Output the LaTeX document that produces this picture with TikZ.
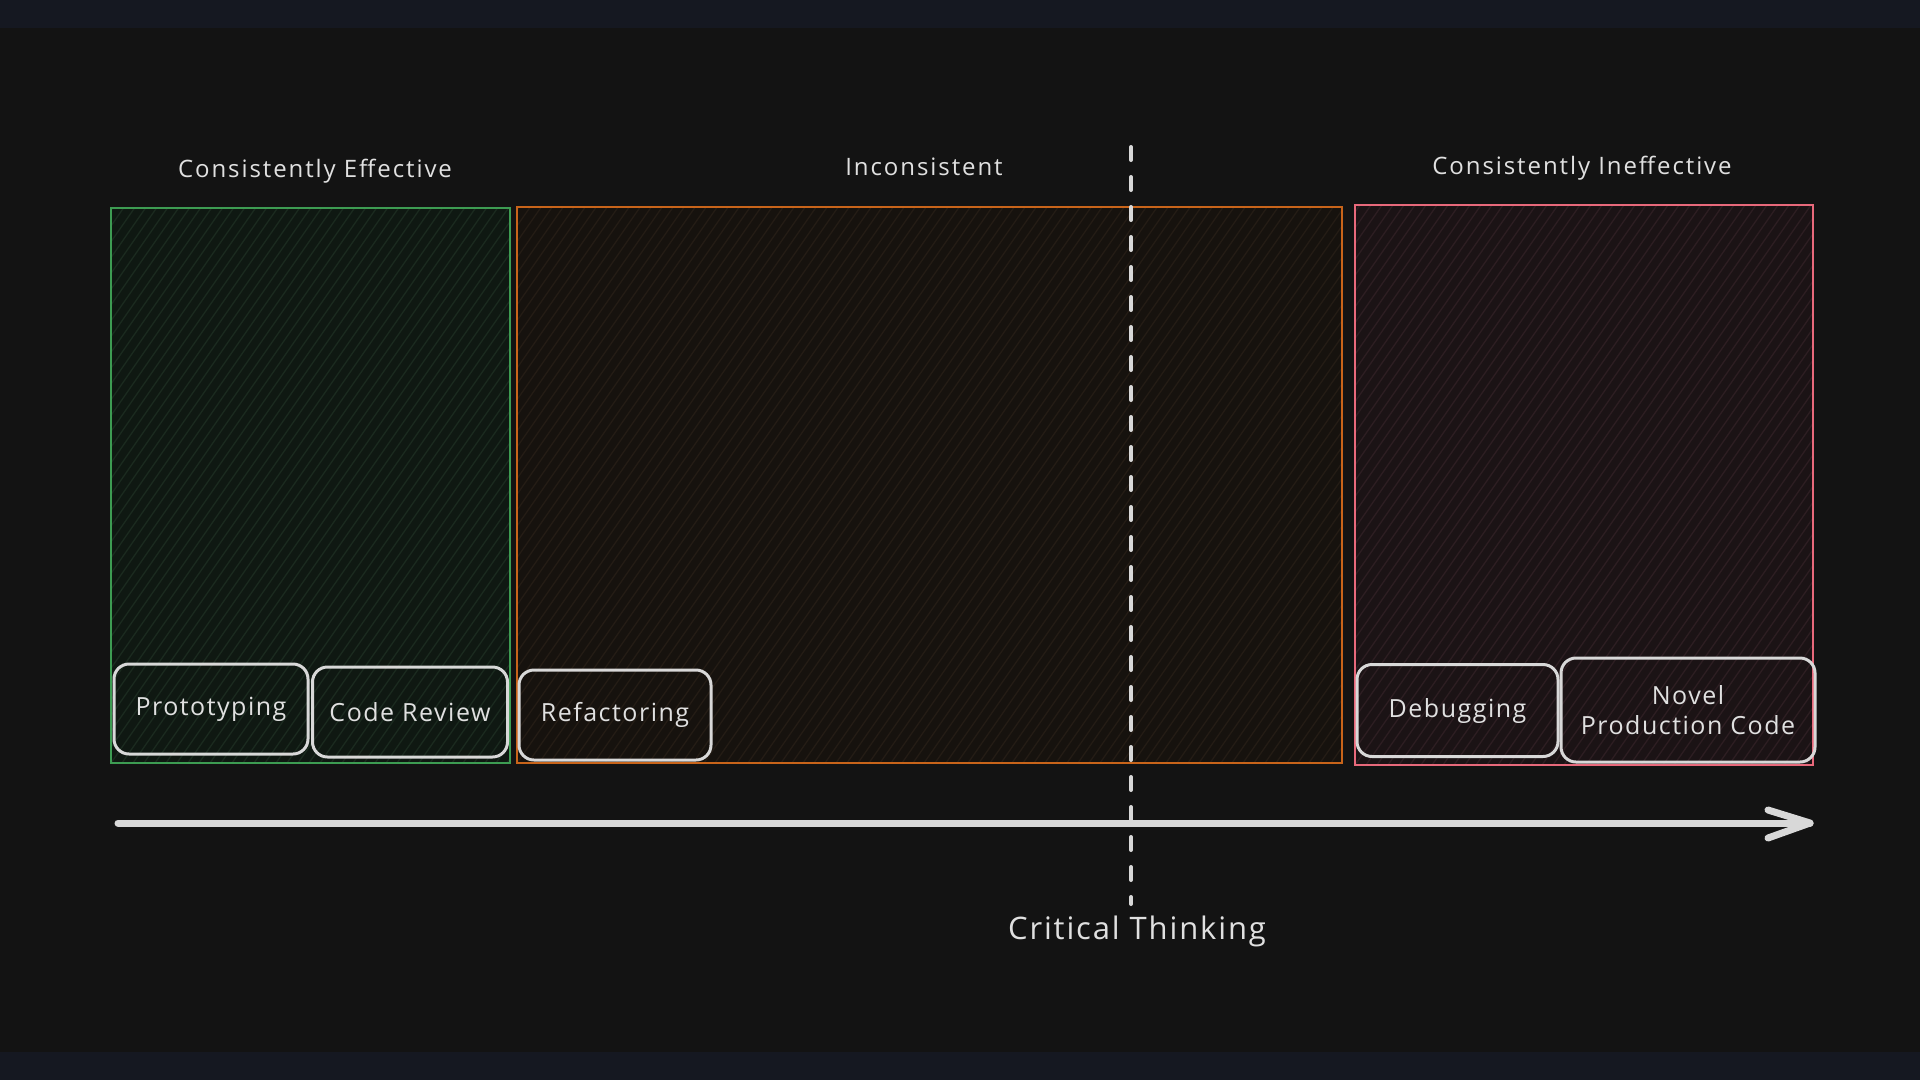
\documentclass[tikz,border=0pt]{standalone}
\usepackage{fontspec}
\setmainfont{Open Sans}
\newfontfamily\ttlfont[LetterSpace=8]{Open Sans}
\newfontfamily\lblfont[LetterSpace=6]{Open Sans}
\usetikzlibrary{positioning}
\definecolor{bgc}{HTML}{131313}
\definecolor{bandc}{HTML}{151821}
\definecolor{txtc}{HTML}{E0E0E0}
\definecolor{lblc}{HTML}{D8D8D8}
\definecolor{grn}{HTML}{3D9C52}
\definecolor{grnfill}{HTML}{0F1812}
\definecolor{grnhatch}{HTML}{1B2A1F}
\definecolor{org}{HTML}{C8641A}
\definecolor{orgfill}{HTML}{16120E}
\definecolor{orghatch}{HTML}{241C15}
\definecolor{redc}{HTML}{E8697B}
\definecolor{redfill}{HTML}{1B1315}
\definecolor{redhatch}{HTML}{2D1E22}
\newcommand\hatchbox[2]{%
  \begin{scope}
    \clip (#1.south west) rectangle (#1.north east);
    \foreach \k in {-45,...,80}
      \draw[#2, line width=1.3pt] ([xshift={\k*11pt}]#1.south west) -- ++(390,-560);
  \end{scope}}
\tikzset{
  zone/.style={rectangle, inner sep=0pt, line width=2pt},
  lbl/.style={rectangle, rounded corners=15pt, draw=lblc, line width=3pt, text=txtc,
    inner sep=0pt, font=\lblfont\fontsize{25}{30}\selectfont, align=center},
  ttl/.style={text=txtc, font=\ttlfont\fontsize{24}{28}\selectfont, anchor=base},
  axis/.style={draw=lblc, line width=7pt, line cap=round, line join=round},
  dashln/.style={draw=lblc, line width=4pt, line cap=round, dash pattern=on 13pt off 17pt}
}
\begin{document}
\begin{tikzpicture}[x=1pt, y=-1pt]
  \useasboundingbox (0,0) rectangle (1920,1080);
  \fill[bgc] (0,0) rectangle (1920,1080);
  \fill[bandc] (0,0) rectangle (1920,28);
  \fill[bandc] (0,1052) rectangle (1920,1080);

  % zones
  \node[zone, fill=grnfill, minimum width=397pt, minimum height=553pt] (gz) at (310.5,485.5) {};
  \node[zone, fill=orgfill, minimum width=823pt, minimum height=554pt] (oz) at (929.5,485) {};
  \node[zone, fill=redfill, minimum width=456pt, minimum height=558pt] (rz) at (1584,485) {};
  \hatchbox{gz}{grnhatch}
  \hatchbox{oz}{orghatch}
  \hatchbox{rz}{redhatch}
  \draw[grn, line width=2pt] (gz.south west) rectangle (gz.north east);
  \draw[org, line width=2pt] (oz.south west) rectangle (oz.north east);
  \draw[redc, line width=2pt] (rz.south west) rectangle (rz.north east);

  % titles
  \node[ttl] (tg) at (315,177) {Consistently Effective};
  \node[ttl] (to) at (924,175) {Inconsistent};
  \node[ttl] (tr) at (1582,174) {Consistently Ineffective};

  % labels
  \node[lbl, minimum width=194pt, minimum height=90pt] (proto) at (211,709) {Prototyping};
  \node[lbl, minimum width=195pt, minimum height=90pt] (cr) at (410,712) {Code Review};
  \node[lbl, minimum width=192pt, minimum height=90pt] (ref) at (615,715) {Refactoring};
  \node[lbl, minimum width=201pt, minimum height=92pt] (dbg) at (1457.5,710.5) {Debugging};
  \node[lbl, minimum width=254pt, minimum height=104pt] (npc) at (1688,710) {Novel\\Production Code};

  % dashed line
  \coordinate (dtop) at (1131,147);
  \coordinate (dbot) at (1131,904);
  \draw[dashln] (dtop) -- (dbot);

  % axis
  \coordinate (axL) at (118,823);
  \coordinate (axR) at (1810,823);
  \draw[axis] (axL) -- (axR);
  \draw[axis] ([shift={(-42,-13)}]axR) -- (axR) -- ([shift={(-42,15)}]axR);

  \node[text=txtc, font=\lblfont\fontsize{31}{36}\selectfont, anchor=base] (ct) at (1137,939) {Critical Thinking};
\end{tikzpicture}
\end{document}
